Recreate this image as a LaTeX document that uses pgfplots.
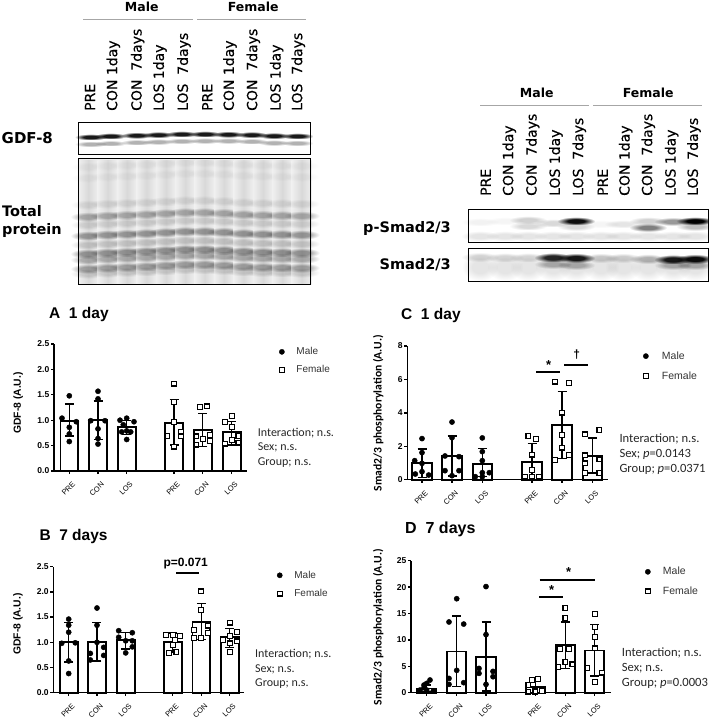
\documentclass[border=0pt]{standalone}
\usepackage{fontspec}
\usepackage{pgfplots}
\usepackage{pgfplotstable}
\usetikzlibrary{fadings}
\pgfplotsset{compat=1.18}
\setmainfont{Liberation Sans}
\newfontfamily\dejavu{DejaVu Sans}
\newfontfamily\dejavusemi[FakeBold=0.4]{DejaVu Sans}
\newfontfamily\carlito{Carlito}
\newcommand{\fs}[1]{\fontsize{#1}{#1}\selectfont}

% soft blot band
\pgfdeclareradialshading{softshade}{\pgfpointorigin}{color(0bp)=(white); color(11bp)=(white); color(25bp)=(black); color(50bp)=(black)}
\pgfdeclarefading{soft}{\pgfuseshading{softshade}}
% x, y, half width, half height, darkness (image pixels)
\newcommand{\band}[5]{\fill[black,opacity=#5,path fading=soft] ({#1-2*#3},{#2-2*#4}) rectangle ({#1+2*#3},{#2+2*#4});}
\newcommand{\lanelabel}[2]{\node[rotate=90,anchor=west,inner sep=0pt,font=\dejavusemi\fs{14}] at (#1) {#2};}

% panel A
\pgfplotstableread{
x y ep em
69.3 0.99 1.32 0.69
98.0 1.00 1.38 0.62
126.7 0.87 0.99 0.72
174.0 0.95 1.41 0.51
202.7 0.80 1.13 0.48
231.7 0.76 0.97 0.51
}\barsA
\pgfplotstableread{
x y
62.0 1.04
69.3 1.48
76.3 0.97
69.3 0.86
69.3 0.73
69.3 0.58
98.0 1.57
98.0 1.42
90.7 0.99
105.0 0.99
98.0 0.83
98.0 0.64
98.0 0.53
120.0 1.00
126.7 1.04
134.0 0.97
123.3 0.91
126.7 0.79
121.7 0.77
130.7 0.77
126.7 0.62
}\maleA
\pgfplotstableread{
x y
174.0 1.72
174.0 1.36
174.0 0.97
167.3 0.69
181.0 0.77
181.0 0.68
174.0 0.48
199.7 1.26
206.7 1.27
196.3 0.68
210.0 0.71
202.7 0.63
196.3 0.52
210.0 0.59
231.7 1.08
224.7 0.96
231.7 0.87
224.7 0.54
231.7 0.61
238.3 0.69
238.3 0.56
}\femaleA

% panel B
\pgfplotstableread{
x y ep em
68.7 1.00 1.39 0.61
97.0 1.00 1.39 0.63
125.7 1.04 1.19 0.87
172.7 1.00 1.18 0.81
201.3 1.41 1.77 1.06
229.7 1.10 1.27 0.90
}\barsB
\pgfplotstableread{
x y
68.7 1.46
68.7 1.34
68.7 1.20
61.7 0.98
75.3 0.99
68.7 0.63
68.7 0.38
97.0 1.68
97.0 1.34
97.0 1.00
90.3 0.78
103.7 0.90
103.7 0.74
90.3 0.65
118.7 1.23
132.3 1.19
118.7 1.10
125.7 1.03
132.3 1.03
132.3 0.91
125.7 0.79
}\maleB
\pgfplotstableread{
x y
165.7 1.14
172.7 1.14
179.7 1.12
175.0 1.04
172.7 0.95
169.0 0.79
176.3 0.81
201.0 2.01
201.0 1.64
208.0 1.33
194.0 1.24
208.0 1.19
194.0 1.08
201.0 1.08
229.7 1.39
236.7 1.20
229.7 1.12
223.0 1.04
236.7 1.02
229.7 0.98
229.7 0.81
}\femaleB

% panel C
\pgfplotstableread{
x y ep em
422.0 1.00 1.84 0.14
452.0 1.43 2.61 0.22
482.3 0.95 1.86 0.18
532.0 1.08 2.18 0.00
562.0 3.25 5.27 1.28
592.3 1.42 2.50 0.40
}\barsC
\pgfplotstableread{
x y
422.0 2.46
422.0 1.62
414.7 1.14
422.0 0.98
415.3 0.34
422.0 0.48
428.7 0.28
452.0 3.45
452.0 2.51
445.0 1.42
459.0 1.38
445.0 0.54
459.0 0.54
452.0 0.24
482.3 2.50
482.3 1.68
482.3 1.14
475.3 0.18
482.3 0.42
489.3 0.42
482.3 0.18
}\maleC
\pgfplotstableread{
x y
528.3 2.63
535.7 2.44
532.0 1.50
532.0 0.58
525.0 0.18
532.0 0.18
539.0 0.18
554.7 5.87
569.0 5.77
562.0 4.01
562.0 2.67
562.0 1.92
569.0 1.48
554.7 1.18
599.3 2.99
585.0 2.71
585.0 1.46
585.0 0.98
599.3 1.22
585.0 0.40
599.3 0.40
}\femaleC

% panel D
\pgfplotstableread{
x y ep em
426.7 0.80 1.50 0.10
456.7 7.80 14.50 1.14
486.0 6.80 13.40 0.30
535.3 1.00 2.40 0.00
565.3 9.00 13.40 4.60
594.7 8.00 12.90 3.20
}\barsD
\pgfplotstableread{
x y
430.0 2.40
424.0 1.45
426.7 1.77
420.0 0.50
426.7 0.50
433.3 0.32
424.0 0.95
456.7 17.80
449.0 13.40
463.7 13.00
456.7 4.23
449.0 2.70
449.0 1.58
463.7 1.90
486.0 20.10
486.0 11.00
479.0 4.60
479.0 3.66
493.0 4.04
493.0 3.03
486.0 1.58
}\maleD
\pgfplotstableread{
x y
537.7 2.60
532.0 2.40
528.3 1.45
528.3 0.20
535.3 0.30
542.0 0.30
535.3 0.20
565.3 16.10
565.3 14.10
560.0 8.30
569.0 8.30
565.3 5.87
558.3 4.90
572.3 5.37
594.7 14.90
594.7 12.50
594.7 10.50
594.7 8.40
587.3 4.67
602.0 3.80
594.7 2.08
}\femaleD

\pgfplotsset{
  panel/.style={
    scale only axis,
    anchor=origin,
    clip=false,
    axis x line*=bottom,
    axis y line*=left,
    axis line style={-,line width=1.5pt},
    tick style={black,line width=1.3pt},
    tick align=outside,
    major tick length=3pt,
    xticklabels={PRE,CON,LOS,PRE,CON,LOS},
    x tick label style={rotate=45,anchor=north east,font=\fs{7.5},inner sep=1pt,yshift=-6pt,xshift=-2pt},
    y tick label style={font=\bfseries\fs{8.5},inner sep=1.5pt},
    /pgf/number format/assume math mode=true,
    ymin=0,
    legend cell align=left,
    legend style={draw=none,fill=none,anchor=north west,font=\fs{10},text=black!80,row sep=5.5pt,inner sep=0pt,
      /tikz/every odd column/.append style={column sep=10pt}},
  },
  barstyle/.style={ybar,bar shift=0pt,bar width=#1,fill=white,draw=black,line width=1.9pt,forget plot,
    error bars/.cd,y dir=both,y explicit,
    error bar style={line width=1.5pt,black},
    error mark options={rotate=90,mark size=4.5pt,line width=1.5pt,black}},
  male/.style={only marks,mark=*,mark size=2.6pt,mark options={fill=black,draw=black,line width=0.4pt}},
  female/.style={only marks,mark=square*,mark size=2.4pt,mark options={fill=white,draw=black,line width=1.2pt}},
}
\newcommand{\bars}[2]{\addplot[barstyle=#2] table[x=x,y=y,y error plus expr=\thisrow{ep}-\thisrow{y},y error minus expr=\thisrow{y}-\thisrow{em}] {#1};}

\begin{document}
\begin{tikzpicture}[x=1pt,y=-1pt]
\path[use as bounding box] (0,0) rectangle (709,721);

% ---- left blot ----
\draw[gray!70,line width=0.7pt] (83.3,19.3) -- (192.7,19.3) (197.3,19.3) -- (306,19.3);
\node[font=\dejavu\bfseries\fs{12.5}] at (141.7,7.3) {Male};
\node[font=\dejavu\bfseries\fs{12.5}] at (253.3,7.3) {Female};
\foreach \x/\t in {90/PRE,113.3/CON 1day,137.7/CON\ \ 7days,160/LOS 1day,184/LOS\ \ 7days,207.3/PRE,230/CON 1day,253.3/CON\ \ 7days,276.7/LOS 1day,298.3/LOS\ \ 7days}
  {\lanelabel{\x,111}{\t}}
\node[font=\dejavu\bfseries\fs{15},anchor=west,inner sep=0pt] at (1.5,138.5) {GDF-8};
\node[font=\dejavu\bfseries\fs{14.5},anchor=west,inner sep=0pt] at (2,210.7) {Total};
\node[font=\dejavu\bfseries\fs{14.5},anchor=west,inner sep=0pt] at (2,230) {protein};

\foreach \x/\y in {90.7/137,110.7/136,136.7/135.3,158.3/134.7,181.7/134,205/134,228.3/134.3,251.7/134.7,274/135.7,297.3/136}
  {\band{\x}{\y}{8}{1.6}{0.9}}
\foreach \x/\y in {90.7/144,110.7/143.3,136.7/142.3,158.3/141.7,181.7/141,205/140.7,228.3/140.7,251.7/141.3,274/142.7,297.3/143}
  {\band{\x}{\y}{8}{1.5}{0.3}}
\draw[black,line width=1pt] (78.3,122.3) rectangle (310,154);

\fill[black!6] (78.3,158.3) rectangle (310,284.7);
\foreach \i/\d in {0/1.7,1/0.7,2/0,3/-0.7,4/-1.7,5/-2.7,6/-2.7,7/-2,8/-0.7,9/0,10/0.3,11/0.7}{
  \pgfmathsetmacro{\lx}{88.3+19.4*\i}
  \shade[left color=black!6,right color=black!6,middle color=black!15] ({\lx-10},160) rectangle ({\lx+10},284);
  \foreach \y/\o in {165/0.03,176/0.03,203/0.08,215/0.27,223/0.1,234/0.34,243/0.14,252/0.36,258/0.25,267/0.3,272/0.12}
    {\band{\lx}{\y+\d}{9}{2.4}{\o}}
}
\draw[black,line width=1pt] (78.3,158.3) rectangle (310,284.7);

% ---- right blot ----
\draw[gray!70,line width=0.7pt] (480,105.7) -- (589.3,105.7) (593.3,105.7) -- (702.3,105.7);
\node[font=\dejavu\bfseries\fs{12.5}] at (536.7,93.3) {Male};
\node[font=\dejavu\bfseries\fs{12.5}] at (648.3,93.3) {Female};
\foreach \x/\t in {485.7/PRE,509.3/CON 1day,532.7/CON\ \ 7days,556/LOS 1day,579.3/LOS\ \ 7days,602.7/PRE,625.7/CON 1day,648.3/CON\ \ 7days,671.7/LOS 1day,694/LOS\ \ 7days}
  {\lanelabel{\x,196}{\t}}
\node[font=\dejavu\bfseries\fs{14.5},anchor=east,inner sep=0pt] at (451,228.5) {p-Smad2/3};
\node[font=\dejavu\bfseries\fs{14.5},anchor=east,inner sep=0pt] at (451,265) {Smad2/3};

% p-Smad2/3: x y dark
\foreach \x/\y/\o in {480/222/.05,505/221/.04,528/220/.18,528/226/.15,553/223/.15,576/221/.95,576/226.5/.15,601/224/.04,623/224/.1,648/221/.18,648/227.5/.5,673/221.5/.4,695/221/1,695/226.5/.25}
  {\band{\x}{\y}{9.5}{2.1}{\o}}
\foreach \x in {480,505,528,553,576,601,623,648,673,695}
  {\band{\x}{236}{9.5}{2.6}{0.1}}
\draw[black,line width=1pt] (468.3,209) rectangle (708.3,242.3);

% Smad2/3
\foreach \x/\y/\o in {480/257/.14,505/257.5/.13,528/257.5/.13,553/257.5/.85,553/264/.28,576/258/.9,576/265/.28,601/258/.18,623/258/.16,648/259/.26,673/259.5/.9,673/265/.28,695/259/.95,695/265/.28}
  {\band{\x}{\y}{9.5}{2.4}{\o}}
\foreach \x in {480,505,528,553,576,601,623,648,673,695}
  {\band{\x}{267}{9}{7}{0.1}}
\draw[black,line width=1pt] (468.3,248.3) rectangle (708.3,281);

% ---- panel A ----
\begin{axis}[panel,at={(54pt,-471pt)},width=192.7pt,height=127pt,xmin=54,xmax=246.7,ymax=2.5,
  xtick={69.3,98,126.7,174,202.7,231.7},ytick={0,0.5,1,1.5,2,2.5},
  yticklabel style={/pgf/number format/fixed,/pgf/number format/fixed zerofill,/pgf/number format/precision=1},
  legend style={at={(1.168,0.99)}}]
\bars{\barsA}{17.7pt}
\addplot[male] table[x=x,y=y] {\maleA};
\addplot[female] table[x=x,y=y] {\femaleA};
\legend{Male,Female}
\end{axis}

% ---- panel B ----
\begin{axis}[panel,at={(53.3pt,-692.7pt)},width=191pt,height=126pt,xmin=53.3,xmax=244.3,ymax=2.5,
  xtick={68.7,97,125.7,172.7,201.3,229.7},ytick={0,0.5,1,1.5,2,2.5},
  yticklabel style={/pgf/number format/fixed,/pgf/number format/fixed zerofill,/pgf/number format/precision=1},
  legend style={at={(1.171,0.984)}}]
\bars{\barsB}{17.7pt}
\addplot[male] table[x=x,y=y] {\maleB};
\addplot[female] table[x=x,y=y] {\femaleB};
\addplot[black,line width=1.5pt,forget plot] coordinates {(176,2.38) (199.3,2.38)};
\legend{Male,Female}
\end{axis}

% ---- panel C ----
\begin{axis}[panel,at={(407.3pt,-479.7pt)},width=201pt,height=133.7pt,xmin=407.3,xmax=608.3,ymax=8,
  xtick={422,452,482.3,532,562,592.3},ytick={0,2,4,6,8},
  legend style={at={(1.173,0.975)},row sep=7pt,font=\fs{10.5},/tikz/every odd column/.append style={column sep=11.5pt}}]
\bars{\barsC}{19.3pt}
\addplot[male] table[x=x,y=y] {\maleC};
\addplot[female] table[x=x,y=y] {\femaleC};
\addplot[black,line width=1.7pt,forget plot] coordinates {(536,6.45) (560.3,6.45)};
\addplot[black,line width=1.7pt,forget plot] coordinates {(564,6.85) (588.3,6.85)};
\legend{Male,Female}
\end{axis}

% ---- panel D ----
\begin{axis}[panel,at={(411pt,-692.7pt)},width=199.7pt,height=132pt,xmin=411,xmax=610.7,ymax=25,
  xtick={426.7,456.7,486,535.3,565.3,594.7},ytick={0,5,10,15,20,25},
  legend style={at={(1.172,0.967)},row sep=6.5pt,font=\fs{10.5},/tikz/every odd column/.append style={column sep=10.5pt}}]
\bars{\barsD}{19.3pt}
\addplot[male] table[x=x,y=y] {\maleD};
\addplot[female] table[x=x,y=y] {\femaleD};
\addplot[black,line width=1.7pt,forget plot] coordinates {(539.7,21.3) (595,21.3)};
\addplot[black,line width=1.7pt,forget plot] coordinates {(539.3,18.1) (563.3,18.1)};
\legend{Male,Female}
\end{axis}

% ---- titles, y labels, statistics ----
\node[font=\bfseries\fs{15.5},anchor=west,inner sep=0pt] at (49,314) {A\ \ 1 day};
\node[font=\bfseries\fs{15.5},anchor=west,inner sep=0pt] at (39.3,536) {B\ \ 7 days};
\node[font=\bfseries\fs{15.5},anchor=west,inner sep=0pt] at (401,315) {C\ \ 1 day};
\node[font=\bfseries\fs{16},anchor=west,inner sep=0pt] at (405,529.3) {D\ \ 7 days};

\node[rotate=90,font=\bfseries\fs{10.3}] at (18.3,403) {GDF-8 (A.U.)};
\node[rotate=90,font=\bfseries\fs{10.3}] at (18,624) {GDF-8 (A.U.)};
\node[rotate=90,font=\carlito\bfseries\fs{11.6}] at (378.3,413) {Smad2/3 phosphorylation (A.U.)};
\node[rotate=90,font=\carlito\bfseries\fs{11.6}] at (378.3,627) {Smad2/3 phosphorylation (A.U.)};

\node[font=\bfseries\fs{12}] at (185.7,563.3) {p=0.071};
\node[font=\bfseries\fs{13}] at (548.7,365) {*};
\node[font=\bfseries\fs{12}] at (576.7,355) {†};
\node[font=\bfseries\fs{13}] at (568.7,572) {*};
\node[font=\bfseries\fs{13}] at (551.7,590) {*};

\foreach \x/\y/\t in {257.7/432.7/Interaction; n.s.,257.7/447.7/Sex; n.s.,257.7/462.3/Group; n.s.,
  255/654.3/Interaction; n.s.,255/669/Sex; n.s.,255/684/Group; n.s.}
  {\node[font=\carlito\fs{12},anchor=west,inner sep=0pt,text=black!85] at (\x,\y) {\t};}
\foreach \x/\y/\t in {619.3/439.3/Interaction; n.s.,619.3/454.3/Sex; \textit{p}=0.0143,619.3/469.3/Group; \textit{p}=0.0371,
  621.7/652.7/Interaction; n.s.,621.7/668.3/Sex; n.s.,621.7/683.3/Group; \textit{p}=0.0003}
  {\node[font=\carlito\fs{12.6},anchor=west,inner sep=0pt,text=black!85] at (\x,\y) {\t};}
\end{tikzpicture}
\end{document}
